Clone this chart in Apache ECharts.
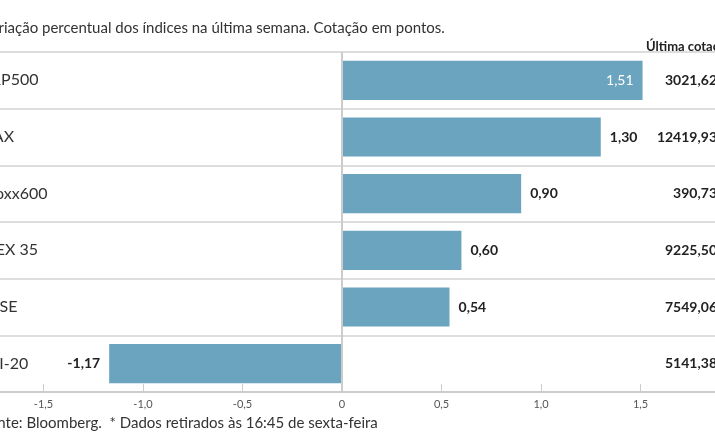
<!DOCTYPE html>
<html>
<head>
<meta charset="utf-8">
<script src="https://cdn.jsdelivr.net/npm/echarts@6/dist/echarts.min.js"></script>
<style>
  html,body{margin:0;padding:0;background:#fff;}
  #chart{width:715px;height:445px;}
</style>
</head>
<body>
<div id="chart"></div>
<script>
// dados
const indices = ['S&P500', 'DAX', 'Stoxx600', 'IBEX 35', 'FTSE', 'PSI-20']
const variacao = [1.51, 1.30, 0.90, 0.60, 0.54, -1.17]
const cotacao = ['3021,62', '12419,93', '390,73', '9225,50', '7549,06', '5141,38']
const ticks = [-1.5, -1, -0.5, 0, 0.5, 1, 1.5]

const fmt = v => v.toFixed(2).replace('.', ',')
const tickFmt = v => v === 0 ? '0' : v.toFixed(1).replace('.', ',')

const font = 'Lato'
const barColor = '#6aa4bf'

const chart = echarts.init(document.getElementById('chart'))

// a barra maior leva a etiqueta dentro, a negativa à esquerda
const barData = variacao.map(v => {
  if (v > 1.4) return { value: v, label: { position: 'insideRight', color: '#fff', fontWeight: 'normal' } }
  if (v < 0) return { value: v, label: { position: 'left' } }
  return v
})

const option = {
  animation: false,
  textStyle: { fontFamily: font },
  title: [
    {
      text: 'Variação percentual dos índices na última semana. Cotação em pontos.',
      left: -23, top: 16,
      textStyle: { fontSize: 15, fontWeight: 'normal', color: '#333', fontFamily: font }
    },
    {
      text: 'Última cotação',
      left: 641, top: 35,
      textStyle: { fontSize: 13, fontWeight: 'bold', color: '#222', fontFamily: font }
    },
    {
      text: 'Fonte: Bloomberg.  * Dados retirados às 16:45 de sexta-feira',
      left: -24, top: 411,
      textStyle: { fontSize: 15, fontWeight: 'normal', color: '#333', fontFamily: font }
    }
  ],
  grid: { left: 0, right: 0, top: 52, bottom: 53, outerBoundsMode: 'none', containLabel: false },
  xAxis: {
    type: 'value',
    min: -1.7186,
    max: 1.874,
    axisLine: { show: true, lineStyle: { color: '#ccc', width: 2 } },
    axisTick: { show: true, inside: true, length: 8, customValues: ticks, lineStyle: { color: '#ccc' } },
    axisLabel: { customValues: ticks, formatter: tickFmt, fontSize: 11, color: '#555', margin: 7 },
    splitLine: { show: false }
  },
  yAxis: [
    {
      type: 'category',
      inverse: true,
      data: indices,
      axisLine: { show: false, onZero: false },
      axisTick: { show: false },
      splitLine: { show: true, lineStyle: { color: '#ddd', width: 2 } },
      axisLabel: { align: 'left', margin: 19, fontSize: 16, color: '#333' }
    },
    {
      type: 'category',
      inverse: true,
      position: 'right',
      data: cotacao,
      axisLine: { show: false, onZero: false },
      axisTick: { show: false },
      splitLine: { show: false },
      axisLabel: { align: 'right', margin: 2, fontSize: 14, fontWeight: 'bold', color: '#222' }
    }
  ],
  series: [
    {
      type: 'bar',
      data: barData,
      barCategoryGap: '31%',
      itemStyle: { color: barColor },
      label: {
        show: true,
        position: 'right',
        distance: 9,
        fontSize: 14,
        fontWeight: 'bold',
        color: '#222',
        formatter: p => fmt(p.value)
      },
      markLine: {
        silent: true,
        symbol: 'none',
        label: { show: false },
        lineStyle: { color: '#ccc', width: 2, type: 'solid' },
        data: [{ xAxis: 0 }]
      }
    }
  ]
}

chart.setOption(option)
</script>
</body>
</html>
